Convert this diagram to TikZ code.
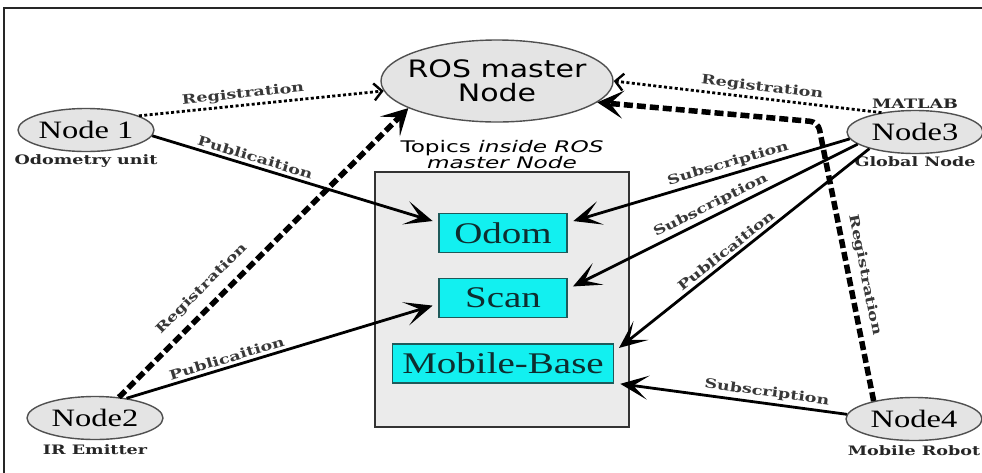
\documentclass[tikz,border=0pt]{standalone}
\usepackage{fontspec}
\usetikzlibrary{positioning,arrows.meta,shapes.geometric}

\newfontfamily\nodefont[FakeStretch=1.3]{Liberation Serif}
\newfontfamily\masterfont[FakeStretch=1.25]{DejaVu Sans}
\newfontfamily\tagfont[FakeStretch=1.35]{DejaVu Serif}
\newfontfamily\titlefont[FakeStretch=1.45]{DejaVu Sans}

\definecolor{ovalfill}{HTML}{E4E4E4}
\definecolor{ovaldraw}{HTML}{505050}
\definecolor{boxfill}{HTML}{EBEBEB}
\definecolor{topicfill}{HTML}{12F0F0}
\definecolor{topicdraw}{HTML}{1E5A5A}
\definecolor{topictext}{HTML}{0E2E30}
\definecolor{tagtext}{HTML}{383838}

\tikzset{
  rosnode/.style={ellipse,draw=ovaldraw,line width=1.4pt,fill=ovalfill,inner sep=0pt,
    minimum width=136pt,minimum height=43pt,font=\nodefont\fontsize{25}{27}\selectfont},
  role/.style={inner sep=1pt,text=black!85,font=\tagfont\bfseries\fontsize{13}{14}\selectfont},
  tag/.style={inner sep=3pt,text=tagtext,font=\tagfont\bfseries\fontsize{13}{14}\selectfont},
  topic/.style={draw=topicdraw,line width=1.2pt,fill=topicfill,text=topictext,inner xsep=10pt,
    inner ysep=2pt,minimum width=128pt,minimum height=39pt,font=\nodefont\fontsize{30}{32}\selectfont}
}

\begin{document}
\begin{tikzpicture}[x=1pt,y=-1pt,
  reg/.style={line width=2.8pt,dash pattern=on 3pt off 2.4pt,
    -{Straight Barb[length=8pt,width=17pt,line width=2.4pt]}},
  regbold/.style={line width=5.5pt,dash pattern=on 9pt off 4pt,
    -{Stealth[length=26pt,width=28pt,inset=13pt]}},
  flow/.style={line width=2.8pt,shorten >=6pt,-{Stealth[length=28pt,width=24pt,inset=15pt]}}]
\useasboundingbox (0,0) rectangle (982,472);
\draw[line width=1.6pt,draw=black!85] (4,490) -- (4,8) -- (990,8);

% topics kept by the master
\node[draw=black!80,line width=1.2pt,fill=boxfill,minimum width=254pt,minimum height=255pt] (topics) at (502,299.5) {};
\node[align=center,inner sep=0pt,font=\titlefont\fontsize{16}{16}\selectfont] (title) [above=2pt of topics]
  {Topics \textit{inside ROS}\\\textit{master Node}};
\node[topic] (Odom) at (503,233) {Odom};
\node[topic] (Scan) [below=25pt of Odom] {Scan};
\node[topic] (Base) [below=25pt of Scan] {Mobile-Base};

% nodes
\node[ellipse,draw=ovaldraw,line width=1.4pt,fill=ovalfill,inner xsep=-8pt,inner ysep=2pt,
  minimum width=232pt,minimum height=82pt,align=center,
  font=\masterfont\fontsize{24}{24}\selectfont] (master) at (497,81) {ROS master\\Node};
\node[rosnode] (Node_1) at (86,130) {Node 1};
\node[rosnode] (Node_2) at (95,418) {Node2};
\node[rosnode] (Node_3) at (915,132) {Node3};
\node[rosnode] (Node_4) at (914,419) {Node4};
\node[role] (odometry) [below=1pt of Node_1] {Odometry unit};
\node[role] (emitter) [below=3pt of Node_2] {IR Emitter};
\node[role] (matlab) [above=0pt of Node_3] {MATLAB};
\node[role] (global) [below=1pt of Node_3] {Global Node};
\node[role] (robot) [below=3pt of Node_4] {Mobile Robot};
\coordinate (bend) at (818,122);

% registration
\path
  (Node_1.15) edge[reg] node[tag,sloped,above,pos=.43] {Registration} (master.185)
  (Node_3.150) edge[reg] node[tag,sloped,above,pos=.45] {Registration} (master.east)
  (Node_2.41) edge[regbold] node[tag,sloped,above=6pt,pos=.33] {Registration} (master.197);
\draw[regbold,rounded corners=8pt] (Node_4.156) -- node[tag,sloped,above=4pt,pos=.44] {Registration} (bend) -- (master.-12);

% publication and subscription
\path
  (Node_1.-5) edge[flow] node[tag,sloped,above,pos=.35] {Publicaition} (Odom.171)
  (Node_2.32) edge[flow] node[tag,sloped,above,pos=.33] {Publicaition} (Scan.185)
  (Node_3.186) edge[flow] node[tag,sloped,above,pos=.42] {Subscription} (Odom.9)
  (Node_3.192) edge[flow] node[tag,sloped,above,pos=.49] {Subscription} (Scan.8)
  (Node_3.200) edge[flow] node[tag,sloped,above,pos=.54] {Publicaition} (Base.6)
  (Node_4.176) edge[flow] node[tag,sloped,above,pos=.35] {Subscription} (Base.-10);
\end{tikzpicture}
\end{document}
